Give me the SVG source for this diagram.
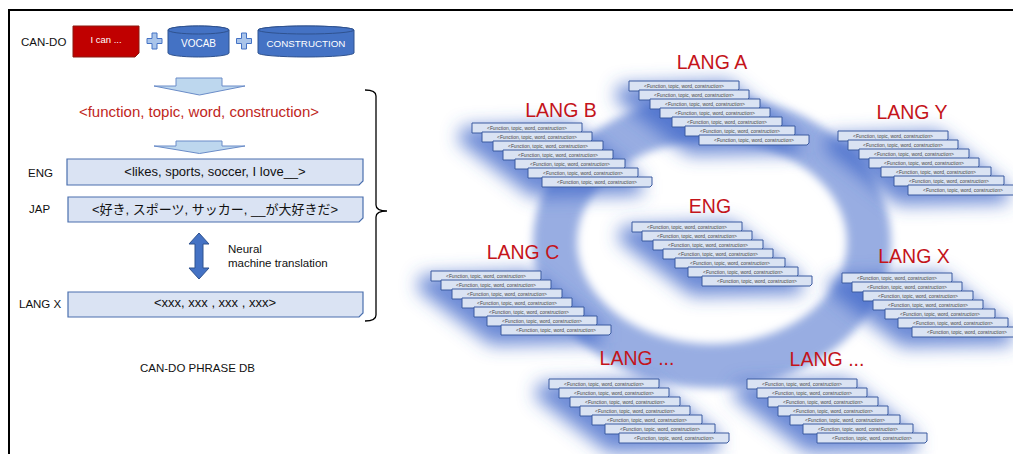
<svg xmlns="http://www.w3.org/2000/svg" xmlns:xlink="http://www.w3.org/1999/xlink" width="1013" height="454" viewBox="0 0 1013 454">
<style>
text{font-family:"Liberation Sans","Noto Sans CJK JP",Arial,sans-serif}
.lbl{font-size:11.5px;fill:#111}
.box{fill:#dae3f3;stroke:#4a6fae;stroke-width:1.2}
.bt{font-size:13px;fill:#111;text-anchor:middle}
.cyl{fill:#4472c4;stroke:#2f528f;stroke-width:1}
.wt{fill:#fff;text-anchor:middle}
.plus{fill:#a9c4ea;stroke:#4472c4;stroke-width:1}
.barrow{fill:#bdd7ee;stroke:#6a8cc8;stroke-width:1}
.card{fill:#dae3f3;stroke:#3a5ba0;stroke-width:1}
.ct{font-size:4.9px;fill:#444;text-anchor:middle}
.lang{font-size:19.5px;fill:#c4141a;text-anchor:middle}
.glow{fill:#3d66c8;opacity:0.75}
</style>
<defs>
<filter id="blur" x="-40%" y="-80%" width="180%" height="260%"><feGaussianBlur stdDeviation="9"/></filter>
<filter id="ringblur" x="-20%" y="-20%" width="140%" height="140%"><feGaussianBlur stdDeviation="4"/></filter>
<g id="card">
<path class="card" d="M0,0 H110 V8 L108,10 H0 Z"/>
<text class="ct" x="55" y="6.8">&lt;Function, topic, word, construction&gt;</text>
</g>
<g id="stack">
<use xlink:href="#card" href="#card" x="0" y="0"/>
<use xlink:href="#card" href="#card" x="10" y="9"/>
<use xlink:href="#card" href="#card" x="21" y="18"/>
<use xlink:href="#card" href="#card" x="31" y="27"/>
<use xlink:href="#card" href="#card" x="43" y="36"/>
<use xlink:href="#card" href="#card" x="56" y="45"/>
<use xlink:href="#card" href="#card" x="70" y="54"/>
</g>
<polygon id="glowshape" class="glow" points="-10,4 100,0 170,56 170,72 60,74 -14,18"/>
</defs>

<rect x="9" y="10" width="1020" height="460" fill="#fff" stroke="#000" stroke-width="2"/>

<!-- ring -->
<ellipse cx="712" cy="242" rx="157" ry="124" fill="none" stroke="#98ade2" stroke-width="44" filter="url(#ringblur)"/>

<!-- left side -->
<g id="cando">
<text class="lbl" x="21" y="46">CAN-DO</text>
<path d="M73,26 H139 V53 L135,57 H73 Z" fill="#c00000" stroke="#8b1a10" stroke-width="1"/>
<text class="wt" x="106" y="43" style="font-size:9.5px">I can ...</text>
</g>
<g id="plus1"><path class="plus" d="M152,33 h5 v5.5 h5 v5 h-5 v5.5 h-5 v-5.5 h-5 v-5 h5 z"/></g>
<g id="vocab">
<path class="cyl" d="M168,30 A30.5,4 0 0 1 229,30 V53 A30.5,4 0 0 1 168,53 Z"/>
<ellipse class="cyl" cx="198.5" cy="30" rx="30.5" ry="4"/>
<text class="wt" x="198.5" y="47" style="font-size:10px">VOCAB</text>
</g>
<g id="plus2"><path class="plus" d="M241.5,33 h5 v5.5 h5 v5 h-5 v5.5 h-5 v-5.5 h-5 v-5 h5 z"/></g>
<g id="construction">
<path class="cyl" d="M258,30 A48,4 0 0 1 354,30 V53 A48,4 0 0 1 258,53 Z"/>
<ellipse class="cyl" cx="306" cy="30" rx="48" ry="4"/>
<text class="wt" x="306" y="47" style="font-size:9.8px">CONSTRUCTION</text>
</g>
<g id="tuple">
<text x="199" y="117" style="font-size:15px;fill:#c0261c;text-anchor:middle">&lt;function, topic, word, construction&gt;</text>
</g>
<g id="eng-row">
<text class="lbl" x="28" y="177">ENG</text>
<path class="box" d="M67,159 H363 V181 L359,185 H67 Z"/>
<text class="bt" x="215" y="176">&lt;likes, sports, soccer, I love__&gt;</text>
</g>
<g id="jap-row">
<text class="lbl" x="29" y="213">JAP</text>
<path class="box" d="M68,197 H363 V218 L359,222 H68 Z"/>
<text class="bt" x="215" y="214">&lt;好き, スポーツ, サッカー, __が大好きだ&gt;</text>
</g>
<g id="nmt">
<path d="M199,233 L209,244 H203 V268 H209 L199,279 L189,268 H195 V244 H189 Z" fill="#4472c4" stroke="#2f528f" stroke-width="1"/>
<text class="lbl" x="228" y="253">Neural</text>
<text class="lbl" x="228" y="267">machine translation</text>
</g>
<g id="langx-row">
<text class="lbl" x="19" y="308">LANG X</text>
<path class="box" d="M68,292 H363 V313 L359,317 H68 Z"/>
<text class="bt" x="215" y="307">&lt;xxx, xxx , xxx , xxx&gt;</text>
</g>
<g id="db-label"><text class="lbl" x="140" y="372">CAN-DO PHRASE DB</text></g>

<g id="connectors" fill="none">
<polygon class="barrow" points="176,78 222,78 222,86 245,86 199.5,95 154,86 176,86"/>
<polygon class="barrow" points="176,141 222,141 222,146 245,146 199.5,153.5 154,146 176,146"/>
<path d="M365,90 Q376,90 376,96 V205 Q376,211 387,211 Q376,211 376,217 V315 Q376,321 365,321" stroke="#000" stroke-width="1.3"/>
</g>

<!-- stacks -->
<g id="lang-a">
<use href="#glowshape" xlink:href="#glowshape" transform="translate(629,81)" filter="url(#blur)"/>
<use href="#stack" xlink:href="#stack" transform="translate(629,81)"/>
<text class="lang" x="712" y="69">LANG A</text>
</g>
<g id="lang-b">
<use href="#glowshape" xlink:href="#glowshape" transform="translate(472,123)" filter="url(#blur)"/>
<use href="#stack" xlink:href="#stack" transform="translate(472,123)"/>
<text class="lang" x="561" y="117">LANG B</text>
</g>
<g id="lang-y">
<use href="#glowshape" xlink:href="#glowshape" transform="translate(838,131)" filter="url(#blur)"/>
<use href="#stack" xlink:href="#stack" transform="translate(838,131)"/>
<text class="lang" x="912" y="119">LANG Y</text>
</g>
<g id="eng">
<use href="#glowshape" xlink:href="#glowshape" transform="translate(632,222)" filter="url(#blur)"/>
<use href="#stack" xlink:href="#stack" transform="translate(632,222)"/>
<text class="lang" x="710" y="213">ENG</text>
</g>
<g id="lang-c">
<use href="#glowshape" xlink:href="#glowshape" transform="translate(431,271)" filter="url(#blur)"/>
<use href="#stack" xlink:href="#stack" transform="translate(431,271)"/>
<text class="lang" x="523" y="259">LANG C</text>
</g>
<g id="lang-x">
<use href="#glowshape" xlink:href="#glowshape" transform="translate(842,273)" filter="url(#blur)"/>
<use href="#stack" xlink:href="#stack" transform="translate(842,273)"/>
<text class="lang" x="914" y="263">LANG X</text>
</g>
<g id="lang-etc-1">
<use href="#glowshape" xlink:href="#glowshape" transform="translate(549,379)" filter="url(#blur)"/>
<use href="#stack" xlink:href="#stack" transform="translate(549,379)"/>
<text class="lang" x="637" y="365">LANG ...</text>
</g>
<g id="lang-etc-2">
<use href="#glowshape" xlink:href="#glowshape" transform="translate(747,379)" filter="url(#blur)"/>
<use href="#stack" xlink:href="#stack" transform="translate(747,379)"/>
<text class="lang" x="827" y="366">LANG ...</text>
</g>
</svg>
